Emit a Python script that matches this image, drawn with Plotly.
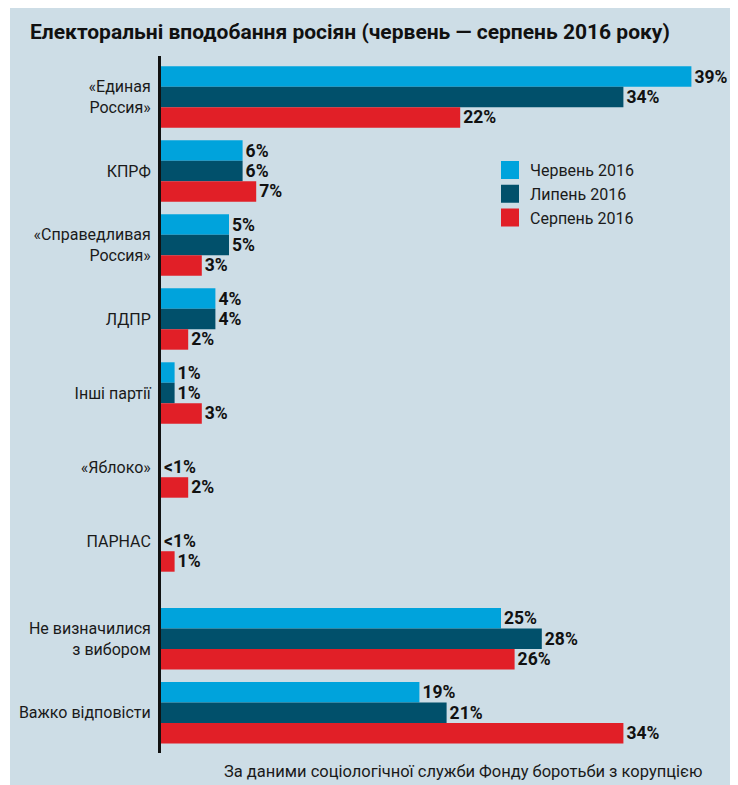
import plotly.graph_objects as go

categories = ["«Единая<br>Россия»", "КПРФ", "«Справедливая<br>Россия»", "ЛДПР",
              "Інші партії", "«Яблоко»", "ПАРНАС", "Не визначилися<br>з вибором",
              "Важко відповісти"]
series_names = ["Червень 2016", "Липень 2016", "Серпень 2016"]
june = [39, 6, 5, 4, 1, 0, 0, 25, 19]
july = [34, 6, 5, 4, 1, 0, 0, 28, 21]
august = [22, 7, 3, 2, 3, 2, 1, 26, 34]
june_labels = ["39%", "6%", "5%", "4%", "1%", "", "", "25%", "19%"]
july_labels = ["34%", "6%", "5%", "4%", "1%", "<1%", "<1%", "28%", "21%"]
august_labels = ["22%", "7%", "3%", "2%", "3%", "2%", "1%", "26%", "34%"]
colors = ["#00a3dc", "#01506b", "#e11f27"]

title = "Електоральні вподобання росіян (червень — серпень 2016 року)"
source = "За даними соціологічної служби Фонду боротьби з корупцією"

# category positions: extra gap before the last two groups
ypos = [i + (0.32 if i >= 7 else 0) for i in range(len(categories))]

FONT = "Roboto"
OFF = 8  # page body margin in the browser
fig = go.Figure()
for name, vals, labels, col in zip(series_names, [june, july, august],
                                   [june_labels, july_labels, august_labels], colors):
    fig.add_trace(go.Bar(
        y=ypos, x=vals, orientation="h", name=name, marker_color=col,
        marker_line_width=0, text=labels, textposition="outside",
        textfont=dict(family=FONT, size=17.5, color="#111111", weight="bold"),
        cliponaxis=False, constraintext="none", showlegend=False,
        hoverinfo="skip"))
    fig.add_trace(go.Scatter(
        x=[None], y=[None], mode="markers", name=name,
        marker=dict(symbol="square", size=16, color=col,
                    line=dict(width=2, color=col)),
        showlegend=True))

W, H = 738 - OFF, 785 - OFF
L, R, T, B = 161 - OFF, 33, 56 - OFF, 32
pw, ph = W - L - R, H - T - B

def px(x):
    return (x - OFF - L) / pw

def py(y):
    return 1 - (y - OFF - T) / ph

fig.update_layout(
    width=W, height=H, autosize=False,
    margin=dict(l=L, r=R, t=T, b=B, autoexpand=False),
    paper_bgcolor="white", plot_bgcolor="rgba(0,0,0,0)",
    barmode="group", bargap=0.17, bargroupgap=0,
    font=dict(family=FONT, color="#1a1a1a"),
    title=dict(text="<b>" + title + "</b>", xref="container", yref="container",
               x=(30 - OFF) / W, xanchor="left", y=1 - (32 - OFF) / H,
               yanchor="middle",
               font=dict(family=FONT, size=21, color="#111111")),
    xaxis=dict(range=[0, 40], visible=False, fixedrange=True, automargin=False),
    yaxis=dict(range=[8.865, -0.554], tickvals=ypos, ticktext=categories,
               showgrid=False, zeroline=False, showline=True, linewidth=3,
               linecolor="#111111", ticks="", ticklabelstandoff=4,
               automargin=False,
               tickfont=dict(family=FONT, size=16, color="#1a1a1a")),
    legend=dict(x=px(490), y=py(153), xanchor="left", yanchor="top",
                bgcolor="rgba(0,0,0,0)", borderwidth=0,
                font=dict(family=FONT, size=16, color="#1a1a1a"),
                tracegroupgap=0, itemclick=False),
    shapes=[dict(type="rect", xref="paper", yref="paper", layer="below",
                 x0=px(10), x1=px(731), y0=py(786), y1=py(8),
                 fillcolor="#cddde6", line_width=0)],
    annotations=[dict(text=source, xref="paper", yref="paper",
                      x=px(704), y=py(771), xanchor="right", yanchor="middle",
                      showarrow=False,
                      font=dict(family=FONT, size=16.5, color="#1a1a1a"))],
)

fig.write_html("out.html")
